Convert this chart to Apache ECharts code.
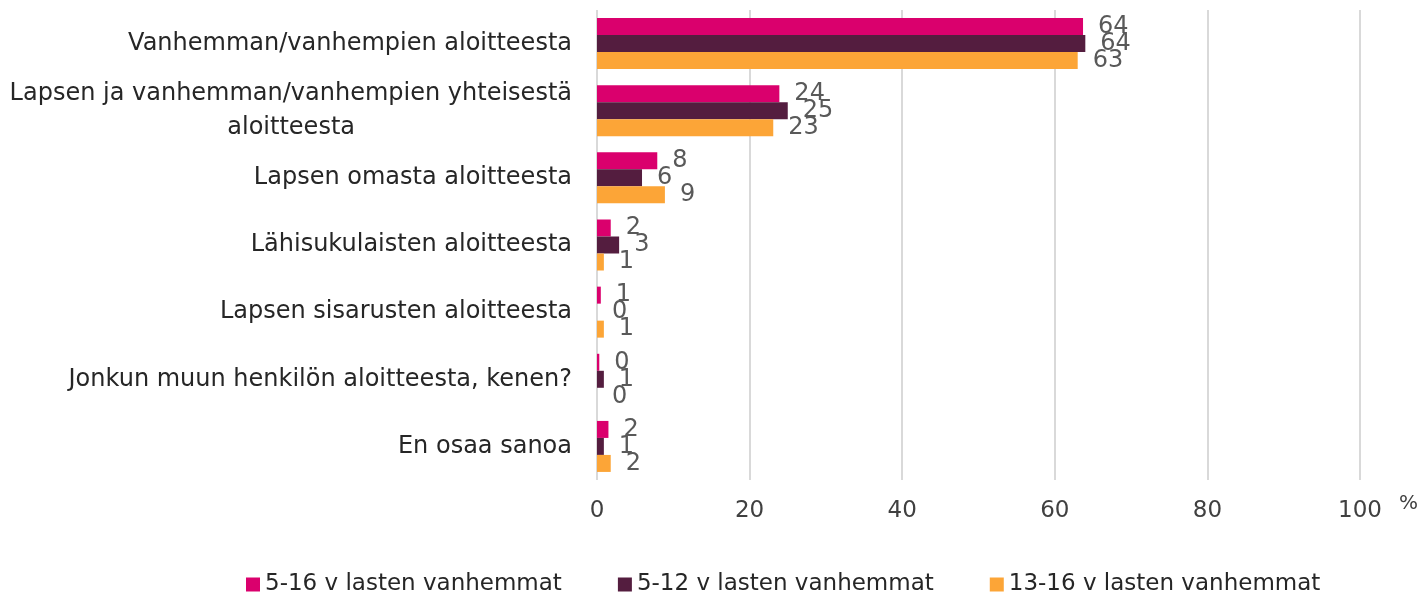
<!DOCTYPE html>
<html>
<head>
<meta charset="utf-8">
<script src="https://cdn.jsdelivr.net/npm/echarts@6/dist/echarts.min.js"></script>
<style>
  html, body { margin: 0; padding: 0; background: #fff; }
  #chart { width: 1424px; height: 593px; }
</style>
</head>
<body>
<div id="chart"></div>
<script>
// kysymyksen vastausvaihtoehdot
const categories = [
  "Vanhemman/vanhempien aloitteesta",
  "Lapsen ja vanhemman/vanhempien yhteisestä\naloitteesta",
  "Lapsen omasta aloitteesta",
  "Lähisukulaisten aloitteesta",
  "Lapsen sisarusten aloitteesta",
  "Jonkun muun henkilön aloitteesta, kenen?",
  "En osaa sanoa"
];
const seriesNames = ["5-16 v lasten vanhemmat", "5-12 v lasten vanhemmat", "13-16 v lasten vanhemmat"];
const all516 = [63.7, 23.9, 7.9, 1.8, 0.5, 0.3, 1.5];
const age512 = [64.0, 25.0, 5.9, 2.9, 0.0, 0.9, 0.9];
const age1316 = [63.0, 23.1, 8.9, 0.9, 0.9, 0.0, 1.8];
const xTicks = [0, 20, 40, 60, 80, 100];
const colors = ["#da006d", "#541d3f", "#fca537"];

const font = "'DejaVu Sans', sans-serif";
const chart = echarts.init(document.getElementById("chart"));

const makeSeries = (name, data, color) => ({
  name: name,
  type: "bar",
  data: data,
  barWidth: 17,
  barGap: "0%",
  itemStyle: { color: color },
  label: {
    show: true,
    position: "right",
    distance: 15,
    color: "#595959",
    fontSize: 24,
    fontFamily: font,
    formatter: p => Math.round(p.value)
  }
});

chart.setOption({
  animation: false,
  grid: { left: 597, right: 64, top: 10, bottom: 113, containLabel: false },
  xAxis: {
    type: "value",
    min: xTicks[0],
    max: xTicks[xTicks.length - 1],
    interval: 20,
    axisLine: { show: false },
    axisTick: { show: false },
    splitLine: { show: true, lineStyle: { color: "#d9d9d9", width: 2 } },
    axisLabel: { color: "#404040", fontSize: 23, fontFamily: font, margin: 20 }
  },
  yAxis: {
    type: "category",
    data: categories,
    inverse: true,
    axisLine: { show: false },
    axisTick: { show: false },
    axisLabel: {
      margin: 25,
      color: "#262626",
      fontSize: 24,
      fontFamily: font,
      lineHeight: 34,
      formatter: v => {
        const parts = v.split("\n");
        if (parts.length > 1) return "{a|" + parts[0] + "}\n{b|" + parts[1] + "}";
        return v;
      },
      rich: {
        a: { fontSize: 24, fontFamily: font, color: "#262626", lineHeight: 34 },
        b: { fontSize: 24, fontFamily: font, color: "#262626", lineHeight: 34, align: "right", padding: [0, 217, 0, 0] }
      }
    }
  },
  legend: {
    data: seriesNames,
    left: 241,
    top: 568,
    itemWidth: 14,
    itemHeight: 14,
    itemGap: 56,
    itemTextGap: 6,
    icon: "rect",
    textStyle: { color: "#262626", fontSize: 23, fontFamily: font }
  },
  graphic: [{
    type: "text",
    left: 1399,
    top: 494,
    style: { text: "%", fontSize: 20, fontFamily: font, fill: "#404040" }
  }],
  series: [
    makeSeries(seriesNames[0], all516, colors[0]),
    makeSeries(seriesNames[1], age512, colors[1]),
    makeSeries(seriesNames[2], age1316, colors[2])
  ]
});
</script>
</body>
</html>
